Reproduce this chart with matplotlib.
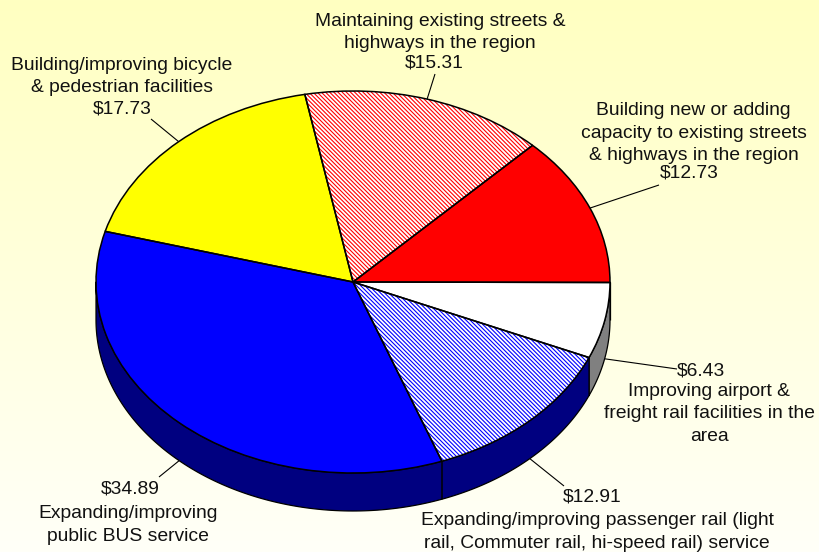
import numpy as np
import matplotlib
matplotlib.use("Agg")
import matplotlib.pyplot as plt
from matplotlib.patches import Polygon

plt.rcParams['font.family'] = ['Liberation Sans', 'DejaVu Sans']
plt.rcParams['hatch.linewidth'] = 0.8

# Data, clockwise from the top of the pie
categories = [
    "Maintaining existing streets &\nhighways in the region",
    "Building new or adding\ncapacity to existing streets\n& highways in the region",
    "Improving airport &\nfreight rail facilities in the\narea",
    "Expanding/improving passenger rail (light\nrail, Commuter rail, hi-speed rail) service",
    "Expanding/improving\npublic BUS service",
    "Building/improving bicycle\n& pedestrian facilities",
]
values = [15.31, 12.73, 6.43, 12.91, 34.89, 17.73]
top_colors = ['white', '#FF0000', 'white', 'white', '#0000FF', '#FFFF00']
hatch_colors = ['#FF0000', '#FF0000', 'white', '#0000FF', '#0000FF', '#FFFF00']
hatches = ['\\' * 8, None, None, '\\' * 8, None, None]
side_colors = ['#000080', '#800000', '#808080', '#000080', '#000080', '#808000']

W, H = 820, 552
CX, CY, RX, RY, DEPTH = 353.0, 282.0, 257.0, 191.0, 38.0
START = -10.8

# text centres and leader ends, in pixels
desc_xy = [(440, 32.5), (693.5, 133), (709, 414), (597, 532), (128, 525), (122, 76.5)]
value_xy = [(434, 63), (689, 173), (701, 371), (592, 497), (130, 489), (122, 109)]
leader_end = [(435, 74), (659, 185), (677, 369), (564, 486), (159, 477), (151, 119)]

fig = plt.figure(figsize=(W / 100, H / 100), dpi=100)

bg = fig.add_axes([0, 0, 1, 1], zorder=0)
top_col = np.array([255, 255, 193]) / 255
bot_col = np.array([255, 255, 248]) / 255
t = np.linspace(0, 1, 256)[:, None, None]
bg.imshow(top_col[None, None, :] * (1 - t) + bot_col[None, None, :] * t, aspect='auto')
bg.axis('off')

ax = fig.add_axes([0, 0, 1, 1], zorder=1)
ax.patch.set_alpha(0)

xlim = (-CX / RX, (W - CX) / RX)
ylim = ((CY - H) / RY, CY / RY)
d = DEPTH / RY


def px(x, y):
    return (x - CX) / RX, (CY - y) / RY


edges = START + np.concatenate([[0], np.cumsum(values)]) * 3.6


def point(theta, drop=0.0):
    a = np.radians(theta)
    return np.sin(a), np.cos(a) - drop


# side wall: only the part of the rim facing the viewer
for i in range(len(values)):
    a0, a1 = max(edges[i], 90), min(edges[i + 1], 270)
    if a1 <= a0:
        continue
    th = np.linspace(a0, a1, 120)
    xs, ys = point(th)
    xb, yb = point(th[::-1], d)
    ax.add_patch(Polygon(np.column_stack([np.r_[xs, xb], np.r_[ys, yb]]),
                         closed=True, facecolor=side_colors[i], edgecolor='black',
                         linewidth=0.9, zorder=1, joinstyle='round'))

# top face: fills with hatch, then black outlines
wedges, _ = ax.pie(values, startangle=90 - START, counterclock=False, radius=1,
                   colors=top_colors, wedgeprops={'linewidth': 0})
for w, hc, h in zip(wedges, hatch_colors, hatches):
    w.set_zorder(2)
    w.set_edgecolor(hc)
    w.set_linewidth(0)
    if h:
        w.set_hatch(h)
outl, _ = ax.pie(values, startangle=90 - START, counterclock=False, radius=1,
                 colors=['none'] * 6,
                 wedgeprops={'linewidth': 1.1, 'edgecolor': 'black'})
for w in outl:
    w.set_zorder(3)

# leaders from the middle of each slice's rim
FS = 13.9
for i in range(len(values)):
    m = (edges[i] + edges[i + 1]) / 2
    front = 90 < m % 360 < 270
    x0, y0 = point(m, d if front else 0)
    x1, y1 = px(*leader_end[i])
    ax.plot([x0, x1], [y0, y1], color='black', lw=0.8, zorder=0.5, solid_capstyle='butt')

    lx, ly = px(*desc_xy[i])
    ax.text(lx, ly, categories[i], ha='center', va='center', fontsize=FS,
            color='#111111', linespacing=1.43, zorder=5, multialignment='center')
    vx, vy = px(*value_xy[i])
    ax.text(vx, vy, f"${values[i]:.2f}", ha='center', va='center', fontsize=FS,
            color='#111111', zorder=5)

ax.set_aspect('auto')
ax.set_xlim(*xlim)
ax.set_ylim(*ylim)
ax.axis('off')

fig.savefig('out.png', dpi=100)
